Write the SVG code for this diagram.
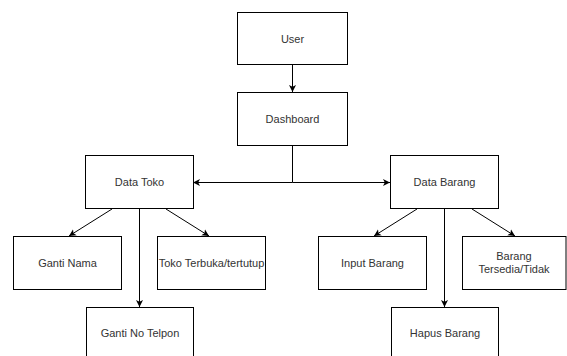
<svg xmlns="http://www.w3.org/2000/svg" width="567" height="356" viewBox="0 0 567 356">
  <style>
    .box { fill: #ffffff; stroke: #000000; stroke-width: 1; }
    .label { font-family: "Liberation Sans", Arial, sans-serif; font-size: 11px; fill: #333333; text-anchor: middle; dominant-baseline: central; }
    .edge { fill: none; stroke: #000000; stroke-width: 1; }
  </style>
  <defs>
    <marker id="arrow" markerUnits="userSpaceOnUse" markerWidth="8" markerHeight="8" refX="7" refY="4" orient="auto">
      <path d="M0,0.5 L7,4 L0,7.5 L1.8,4 Z" fill="#000000"/>
    </marker>
  </defs>
  <rect width="567" height="356" fill="#ffffff"/>

  <g id="connectors">
    <line class="edge" x1="292.5" y1="64" x2="292.5" y2="92" marker-end="url(#arrow)"/>
    <polyline class="edge" points="292.5,146 292.5,182.5 193,182.5" marker-end="url(#arrow)"/>
    <polyline class="edge" points="292.5,182.5 390,182.5" marker-end="url(#arrow)"/>
    <line class="edge" x1="112" y1="209" x2="69" y2="236" marker-end="url(#arrow)"/>
    <line class="edge" x1="139.5" y1="209" x2="139.5" y2="307" marker-end="url(#arrow)"/>
    <line class="edge" x1="166" y1="209" x2="209" y2="236" marker-end="url(#arrow)"/>
    <line class="edge" x1="417" y1="209" x2="374" y2="236" marker-end="url(#arrow)"/>
    <line class="edge" x1="444.5" y1="209" x2="444.5" y2="307" marker-end="url(#arrow)"/>
    <line class="edge" x1="472" y1="209" x2="515" y2="236" marker-end="url(#arrow)"/>
  </g>

  <g id="user">
    <rect class="box" x="237.5" y="12.5" width="110" height="52"/>
    <text class="label" x="292.5" y="38.5">User</text>
  </g>
  <g id="dashboard">
    <rect class="box" x="237.5" y="92.5" width="110" height="53"/>
    <text class="label" x="292.5" y="119">Dashboard</text>
  </g>
  <g id="data-toko">
    <rect class="box" x="85.5" y="155.5" width="108" height="53"/>
    <text class="label" x="139.5" y="182">Data Toko</text>
  </g>
  <g id="data-barang">
    <rect class="box" x="390.5" y="155.5" width="108" height="53"/>
    <text class="label" x="444.5" y="182">Data Barang</text>
  </g>
  <g id="ganti-nama">
    <rect class="box" x="13.5" y="236.5" width="108" height="53"/>
    <text class="label" x="67.5" y="262.5">Ganti Nama</text>
  </g>
  <g id="toko-terbuka">
    <rect class="box" x="157.5" y="236.5" width="108" height="53"/>
    <text class="label" x="211.5" y="262.5">Toko Terbuka/tertutup</text>
  </g>
  <g id="ganti-no-telpon">
    <rect class="box" x="86.5" y="307.5" width="107" height="60"/>
    <text class="label" x="140" y="333">Ganti No Telpon</text>
  </g>
  <g id="input-barang">
    <rect class="box" x="318.5" y="236.5" width="108" height="53"/>
    <text class="label" x="372.5" y="262.5">Input Barang</text>
  </g>
  <g id="barang-tersedia">
    <rect class="box" x="462.5" y="236.5" width="103.5" height="53"/>
    <text class="label" x="514" y="256">Barang</text>
    <text class="label" x="514" y="269">Tersedia/Tidak</text>
  </g>
  <g id="hapus-barang">
    <rect class="box" x="391.5" y="307.5" width="107" height="60"/>
    <text class="label" x="445" y="333">Hapus Barang</text>
  </g>
</svg>
